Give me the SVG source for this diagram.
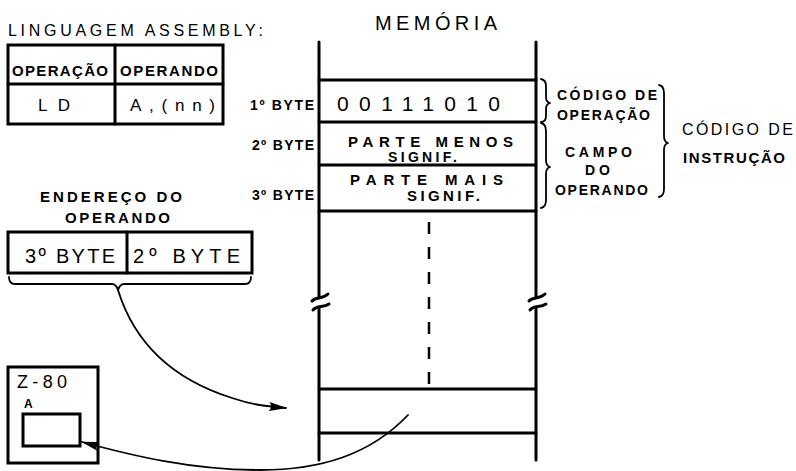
<svg xmlns="http://www.w3.org/2000/svg" width="796" height="471" viewBox="0 0 796 471">
<style>
text{font-family:"Liberation Sans","DejaVu Sans",sans-serif;fill:#000}
.b{font-weight:bold}
.box{fill:none;stroke:#000;stroke-width:3}
.ln{fill:none;stroke:#000;stroke-width:3;stroke-linecap:round}
.thin{fill:none;stroke:#000;stroke-width:1.8;stroke-linecap:round;stroke-linejoin:round}
</style>
<defs>
<marker id="ah" viewBox="0 0 18 10" refX="17" refY="5" markerWidth="18" markerHeight="10" orient="auto" markerUnits="userSpaceOnUse">
<path d="M0,0.5 L18,5 L0,9.5 Q4,5 0,0.5 Z" fill="#000"/>
</marker>
</defs>
<rect width="796" height="471" fill="#fff"/>

<g id="assembly">
<text x="8" y="36" font-size="16" textLength="255" lengthAdjust="spacing">LINGUAGEM ASSEMBLY:</text>
<rect class="box" x="8" y="45" width="215" height="79"/>
<line class="ln" x1="8" y1="84" x2="223" y2="84"/>
<line class="ln" x1="115" y1="45" x2="115" y2="124"/>
<text class="b" x="12" y="76" font-size="15" textLength="96" lengthAdjust="spacing">OPERAÇÃO</text>
<text class="b" x="120" y="76" font-size="15" textLength="98" lengthAdjust="spacing">OPERANDO</text>
<text x="38" y="111" font-size="17" textLength="32" lengthAdjust="spacing">LD</text>
<text x="130" y="111" font-size="17" textLength="85" lengthAdjust="spacing">A,(nn)</text>
</g>

<g id="memoria">
<text x="375" y="30" font-size="20" textLength="122" lengthAdjust="spacing">MEMÓRIA</text>
<path class="ln" d="M319,42 V297 M319,308 V460"/>
<path class="ln" d="M536,42 V297 M536,308 V460"/>
<path class="ln" d="M312,301 C316,296 322,300 328,294 M313,310 C317,305 323,308 329,304"/>
<path class="ln" d="M529,301 C533,296 539,300 545,294 M530,310 C534,305 540,308 546,304"/>
<line class="ln" x1="319" y1="80" x2="536" y2="80"/>
<line class="ln" x1="319" y1="122" x2="536" y2="122"/>
<line class="ln" x1="319" y1="165" x2="536" y2="165"/>
<line class="ln" x1="319" y1="211" x2="536" y2="211"/>
<line class="ln" x1="319" y1="389" x2="536" y2="389"/>
<line class="ln" x1="319" y1="433" x2="536" y2="433"/>
<line x1="429" y1="222" x2="429" y2="384" stroke="#000" stroke-width="2.5" stroke-dasharray="12 13"/>
</g>

<g id="byte1">
<text class="b" x="250" y="110" font-size="14" textLength="64" lengthAdjust="spacing">1º BYTE</text>
<text x="337" y="111" font-size="21" textLength="163" lengthAdjust="spacing">00111010</text>
</g>
<g id="byte2">
<text class="b" x="252" y="150" font-size="14" textLength="62" lengthAdjust="spacing">2º BYTE</text>
<text class="b" x="348" y="147" font-size="15" textLength="165" lengthAdjust="spacing">PARTE MENOS</text>
<text class="b" x="388" y="162" font-size="14" textLength="69" lengthAdjust="spacing">SIGNIF.</text>
</g>
<g id="byte3">
<text class="b" x="252" y="200" font-size="14" textLength="62" lengthAdjust="spacing">3º BYTE</text>
<text class="b" x="350" y="185" font-size="15" textLength="153" lengthAdjust="spacing">PARTE MAIS</text>
<text class="b" x="407" y="201" font-size="15" textLength="73" lengthAdjust="spacing">SIGNIF.</text>
</g>

<g id="codigo-operacao">
<path class="thin" d="M541,79 Q546,80 546,86 V97 Q546,102 550,103 Q546,104 546,109 V116 Q546,122 541,122"/>
<text class="b" x="557" y="100" font-size="14" textLength="100" lengthAdjust="spacing">CÓDIGO DE</text>
<text class="b" x="557" y="120" font-size="14" textLength="93" lengthAdjust="spacing">OPERAÇÃO</text>
</g>
<g id="campo-operando">
<path class="thin" d="M541,123 Q546,124 546,131 V160 Q546,166 550,167 Q546,168 546,174 V200 Q546,207 541,208"/>
<text class="b" x="565" y="157" font-size="14" textLength="67" lengthAdjust="spacing">CAMPO</text>
<text class="b" x="585" y="175" font-size="14" textLength="25" lengthAdjust="spacing">DO</text>
<text class="b" x="555" y="195" font-size="14" textLength="93" lengthAdjust="spacing">OPERANDO</text>
</g>
<g id="codigo-instrucao">
<path class="thin" d="M659,85 Q664,86 664,93 V136 Q664,142 668,143 Q664,144 664,150 V189 Q664,196 659,197"/>
<text x="682" y="135" font-size="16" textLength="111" lengthAdjust="spacing">CÓDIGO DE</text>
<text class="b" x="683" y="163" font-size="15" textLength="102" lengthAdjust="spacing">INSTRUÇÃO</text>
</g>

<g id="endereco">
<text class="b" x="40" y="202" font-size="15" textLength="142" lengthAdjust="spacing">ENDEREÇO DO</text>
<text class="b" x="65" y="223" font-size="15" textLength="105" lengthAdjust="spacing">OPERANDO</text>
<rect class="box" x="8" y="232" width="244" height="41"/>
<line class="ln" x1="127" y1="232" x2="127" y2="273"/>
<text x="25" y="263" font-size="20" textLength="90" lengthAdjust="spacing">3º BYTE</text>
<text x="133" y="263" font-size="20" textLength="107" lengthAdjust="spacing">2º BYTE</text>
<path class="thin" d="M9,277 Q9,284 15,284 H112 Q116,284 118,290 Q120,284 124,284 H245 Q251,284 251,277"/>
</g>

<g id="z80">
<rect class="box" x="8" y="367" width="90" height="96"/>
<text x="17" y="388" font-size="18" textLength="50" lengthAdjust="spacing">Z-80</text>
<text class="b" x="24" y="408" font-size="12">A</text>
<rect class="box" x="23" y="414" width="57" height="32"/>
</g>

<g id="connectors">
<path class="thin" d="M118,290 C135,345 175,380 232,398 C250,404 262,406 286,408" marker-end="url(#ah)"/>
<path class="thin" d="M408,415 C370,455 320,470 260,470 C190,470 130,455 82,442" marker-end="url(#ah)"/>
</g>
</svg>
